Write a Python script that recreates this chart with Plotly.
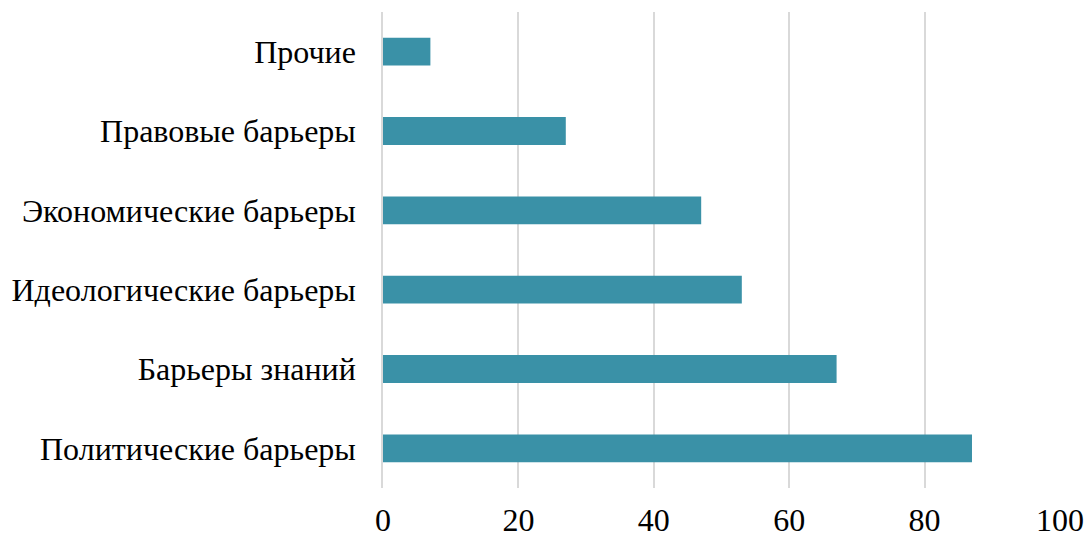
import plotly.graph_objects as go

categories = ["Политические барьеры", "Барьеры знаний", "Идеологические барьеры",
              "Экономические барьеры", "Правовые барьеры", "Прочие"]
values = [87, 67, 53, 47, 27, 7]
x_ticks = [0, 20, 40, 60, 80, 100]

fig = go.Figure(go.Bar(
    x=values, y=categories, orientation="h",
    marker=dict(color="#3a91a7", line=dict(width=0)),
    width=0.35,
))

fig.update_layout(
    width=1088, height=537,
    margin=dict(l=383, r=28, t=12, b=49, autoexpand=False),
    paper_bgcolor="white", plot_bgcolor="white",
    font=dict(family="Liberation Serif, Times New Roman, serif", size=32, color="black"),
    showlegend=False,
    bargap=0.65,
)
fig.update_xaxes(
    range=[0, 100], tickvals=x_ticks, showgrid=True, gridcolor="#d9d9d9", gridwidth=1.5,
    zeroline=False, showline=False, ticks="outside", ticklen=4, tickcolor="rgba(0,0,0,0)",
    tickfont=dict(size=32), automargin=False,
)
fig.update_yaxes(
    showgrid=False, zeroline=False, showline=True, linecolor="#d9d9d9", linewidth=1.5,
    ticks="", ticklabelstandoff=19, tickfont=dict(size=32), automargin=False,
)

fig.write_html("out.html")
